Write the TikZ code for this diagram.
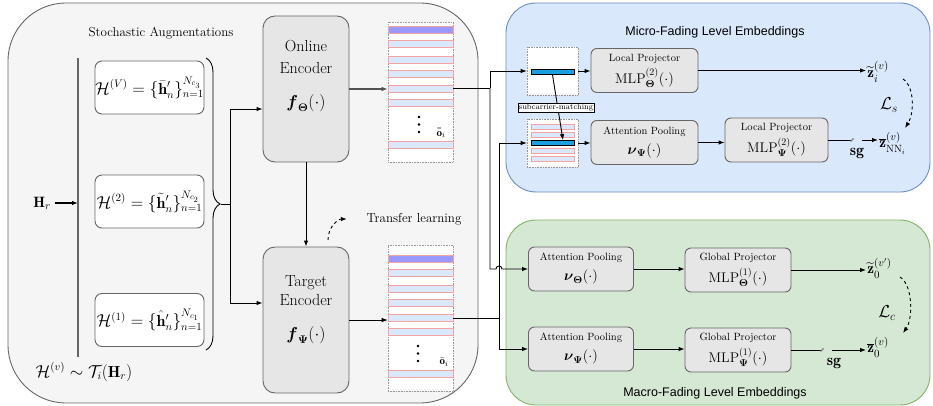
\documentclass[tikz,border=0pt]{standalone}
\usepackage{amsmath, amssymb, tikz}
\usepackage{fontspec}
\newfontfamily\panelfont{Liberation Sans}
\usetikzlibrary{arrows.meta, calc, decorations.pathreplacing}

\definecolor{panelgray}{HTML}{F5F5F5}
\definecolor{edgegray}{HTML}{666666}
\definecolor{boxgray}{HTML}{E6E6E6}
\definecolor{microblue}{HTML}{DAE8FC}
\definecolor{microedge}{HTML}{6C8EBF}
\definecolor{macrogreen}{HTML}{D5E8D4}
\definecolor{macroedge}{HTML}{82B366}
\definecolor{rowpink}{HTML}{F4A3A3}
\definecolor{rowpurple}{HTML}{9999FF}
\definecolor{rowblue}{HTML}{1BA1E2}

\newcommand{\boxcaption}[1]{{\fontsize{10.5}{12}\selectfont #1}}

\tikzset{
    panel/.style={line width=0.9pt, inner sep=0pt},
    paneltitle/.style={font=\panelfont\fontsize{12.5}{14}\selectfont},
    viewbox/.style={draw=edgegray, fill=white, rounded corners=7pt, minimum width=109pt, minimum height=53pt, inner sep=0pt, font=\fontsize{16}{18}\selectfont},
    encbox/.style={draw=edgegray, fill=boxgray, rounded corners=12pt, minimum width=86pt, minimum height=146pt},
    stackbox/.style={draw=gray!80, densely dotted, line width=0.6pt, fill=white, inner sep=0pt},
    row/.style={draw=rowpink, fill=microblue, line width=0.8pt, minimum width=65pt, minimum height=7pt, inner sep=0pt},
    toprow/.style={row, fill=rowpurple},
    smallrow/.style={row, minimum width=43pt, minimum height=5pt},
    matchrow/.style={draw=black, fill=rowblue, line width=0.8pt, minimum width=43pt, minimum height=5pt, inner sep=0pt},
    headbox/.style={draw=edgegray, fill=boxgray, rounded corners=6pt, minimum height=44pt, inner sep=0pt, align=center, font=\fontsize{14}{16}\selectfont},
    embed/.style={font=\fontsize{15}{17}\selectfont, inner sep=1pt},
    rowname/.style={font=\fontsize{11}{13}\selectfont, inner sep=0pt},
    lossname/.style={font=\fontsize{17}{19}\selectfont},
    stopgrad/.style={font=\fontsize{16}{18}\selectfont},
}

\begin{document}
\begin{tikzpicture}[x=1pt, y=-1pt, >={Latex[length=6pt,width=4.5pt]}, line width=0.9pt]
    \useasboundingbox (0,0) rectangle (933,406);

    \node[panel, fill=panelgray, draw=edgegray, rounded corners=58pt, minimum width=470pt, minimum height=400pt] (augpanel) at (243,203) {};
    \node[panel, fill=microblue, draw=microedge, rounded corners=30pt, minimum width=424pt, minimum height=189pt] (micro) at (718,97.5) {};
    \node[panel, fill=macrogreen, draw=macroedge, rounded corners=30pt, minimum width=424pt, minimum height=185pt] (macro) at (718,312.5) {};

    \node[font=\fontsize{13}{15}\selectfont] (augtitle) at (161,33) {Stochastic Augmentations};
    \node[paneltitle] (microtitle) at (715,32) {Micro-Fading Level Embeddings};
    \node[paneltitle] (macrotitle) at (715,393) {Macro-Fading Level Embeddings};

    \node[font=\fontsize{15}{17}\selectfont] (hr) at (42,203) {$\mathbf{H}_r$};
    \coordinate (bartop) at (78,58);
    \coordinate (barbot) at (78,357);
    \draw[line width=2.2pt, edgegray] (bartop) -- (barbot);
    \draw[->, line width=1.2pt] (hr) -- (hr -| bartop);
    \node[font=\fontsize{16}{18}\selectfont] (hvlabel) at (84,372) {$\mathcal{H}^{(v)}\sim\mathcal{T}_i(\mathbf{H}_r)$};

    \node[viewbox] (hV) at (149.5,87.5) {$\mathcal{H}^{(V)}=\{\bar{\mathbf{h}}'_n\}_{n=1}^{N_{c_3}}$};
    \node[viewbox] (h2) at (149.5,201.5) {$\mathcal{H}^{(2)}=\{\tilde{\mathbf{h}}'_n\}_{n=1}^{N_{c_2}}$};
    \node[viewbox] (h1) at (149.5,320) {$\mathcal{H}^{(1)}=\{\hat{\mathbf{h}}'_n\}_{n=1}^{N_{c_1}}$};
    \draw[decorate, decoration={brace, amplitude=14pt}] (206,58) -- (206,350);
    \coordinate (bracetip) at (221,204);
    \coordinate (augsplit) at (230,204);

    \node[encbox] (online) at (306,89) {};
    \node[align=center, font=\fontsize{16}{22.5}\selectfont] (onlinetext) at (306,76) {Online\\Encoder\\[11pt]$\boldsymbol{f}_{\boldsymbol{\Theta}}(\cdot)$};
    \node[encbox] (target) at (306,320) {};
    \node[align=center, font=\fontsize{16}{19}\selectfont] (targettext) at (306,310) {Target\\Encoder\\[15pt]$\boldsymbol{f}_{\boldsymbol{\Psi}}(\cdot)$};

    \draw (bracetip) -- (augsplit);
    \draw[->] (augsplit) |- ([yshift=-20pt]online.west);
    \draw[->] (augsplit) |- ([yshift=17pt]target.west);
    \draw[->] (online) -- (target);

    \node[font=\fontsize{13}{15}\selectfont] (transfer) at (414,219) {Transfer learning};
    \coordinate (tlfoot) at (328,240);
    \draw[->, dashed] (tlfoot) .. controls +(0,-14) and +(-8,0) .. ([xshift=-16pt]transfer.west);

    \node[stackbox, minimum width=65pt, minimum height=140pt] (onstack) at (420.5,92) {};
    \node[toprow] (on1) at (420.5,30) {};
    \node[row] (on2) at (420.5,44) {};
    \node[row] (on3) at (420.5,60) {};
    \node[row] (on4) at (420.5,74) {};
    \node[row] (on5) at (420.5,89) {};
    \node[row] (on6) at (420.5,103) {};
    \node[row] (on7) at (420.5,145) {};
    \filldraw (419,117) circle(0.8);
    \filldraw (419,124.5) circle(0.8);
    \filldraw (419,132) circle(0.8);
    \node[rowname] (onlabel) at (441,133) {$\bar{\bar{\mathbf{o}}}_i$};

    \node[stackbox, minimum width=65pt, minimum height=146pt] (tgstack) at (420.5,318) {};
    \node[toprow] (tg1) at (420.5,259) {};
    \node[row] (tg2) at (420.5,273) {};
    \node[row] (tg3) at (420.5,289) {};
    \node[row] (tg4) at (420.5,303) {};
    \node[row] (tg5) at (420.5,318) {};
    \node[row] (tg6) at (420.5,332) {};
    \node[row] (tg7) at (420.5,374) {};
    \filldraw (418,346) circle(0.8);
    \filldraw (418,353.5) circle(0.8);
    \filldraw (418,361) circle(0.8);
    \node[rowname] (tglabel) at (444,362) {$\bar{\mathbf{o}}_i$};

    \draw[->, line width=1.5pt, edgegray!80!black] (online.east) -- (online.east -| onstack.west);
    \draw[->] (target.east) -- (target.east -| tgstack.west);

    \node[stackbox, minimum width=51pt, minimum height=48pt] (micbox1) at (552.5,71) {};
    \node[matchrow] (mbar1) at (552.5,72) {};
    \node[stackbox, minimum width=51pt, minimum height=48pt] (micbox2) at (552.5,143) {};
    \node[smallrow] (mrow1) at (552.5,127) {};
    \node[smallrow] (mrow2) at (552.5,135) {};
    \node[matchrow] (mbar2) at (552.5,143) {};
    \node[smallrow] (mrow4) at (552.5,151) {};
    \node[smallrow] (mrow5) at (552.5,158.5) {};
    \draw[->] (mbar1.south) -- ([xshift=10.5pt]mbar2.north);
    \node[draw, fill=white, line width=0.8pt, inner sep=1pt, font=\fontsize{8}{9}\selectfont] (match) at (556,107.5) {subcarrier-matching};

    \node[headbox, minimum width=107pt] (lproj1) at (644.5,70.5) {\boxcaption{Local Projector}\\[4pt]$\mathrm{MLP}^{(2)}_{\boldsymbol{\Theta}}(\cdot)$};
    \node[headbox, minimum width=107pt] (apoolmic) at (644.5,142.5) {\boxcaption{Attention Pooling}\\[4pt]$\boldsymbol{\nu}_{\boldsymbol{\Psi}}(\cdot)$};
    \node[headbox, minimum width=103pt] (lproj2) at (776.5,140) {\boxcaption{Local Projector}\\[4pt]$\mathrm{MLP}^{(2)}_{\boldsymbol{\Psi}}(\cdot)$};

    \node[headbox, minimum width=105pt] (apoolTh) at (581,269) {\boxcaption{Attention Pooling}\\[4pt]$\boldsymbol{\nu}_{\boldsymbol{\Theta}}(\cdot)$};
    \node[headbox, minimum width=106pt] (gprojTh) at (738,270) {\boxcaption{Global Projector}\\[4pt]$\mathrm{MLP}^{(1)}_{\boldsymbol{\Theta}}(\cdot)$};
    \node[headbox, minimum width=105pt] (apoolPs) at (581,349) {\boxcaption{Attention Pooling}\\[4pt]$\boldsymbol{\nu}_{\boldsymbol{\Psi}}(\cdot)$};
    \node[headbox, minimum width=106pt] (gprojPs) at (738,350) {\boxcaption{Global Projector}\\[4pt]$\mathrm{MLP}^{(1)}_{\boldsymbol{\Psi}}(\cdot)$};

    \coordinate (onsplit) at (490,88);
    \coordinate (tgsplit) at (499,318);
    \coordinate (jump) at (499,269);
    \draw (onstack.east |- onsplit) -- (onsplit);
    \draw[->] (onsplit) |- (micbox1.west);
    \draw[->] (onsplit) |- ([xshift=-3pt]jump) arc[start angle=180, end angle=0, radius=3pt] -- (apoolTh.west);
    \draw (tgstack.east) -- (tgsplit);
    \draw[->] (tgsplit) |- (micbox2.west);
    \draw[->] (tgsplit) |- (apoolPs.west);

    \draw[->] (micbox1.east) -- (micbox1.east -| lproj1.west);
    \draw[->] (micbox2.east) -- (micbox2.east -| apoolmic.west);
    \draw[->] (apoolmic.east) -- (apoolmic.east -| lproj2.west);
    \draw[->] (apoolTh.east) -- (apoolTh.east -| gprojTh.west);
    \draw[->] (apoolPs.east) -- (apoolPs.east -| gprojPs.west);

    \node[embed, anchor=west] (ztili) at (866,72) {$\widetilde{\mathbf{z}}_i^{(v)}$};
    \node[embed, anchor=west] (zbarnn) at (878,143) {$\overline{\mathbf{z}}_{\mathrm{NN}_i}^{(v)}$};
    \node[embed, anchor=west] (ztil0) at (866,268) {$\widetilde{\mathbf{z}}_0^{(v')}$};
    \node[embed, anchor=west] (zbar0) at (866,347) {$\overline{\mathbf{z}}_0^{(v)}$};

    \draw[->] (lproj1.east) -- (lproj1.east -| ztili.west);
    \draw[->] (gprojTh.east) -- (gprojTh.east -| ztil0.west);

    \coordinate (cutmic) at (852,140);
    \node[stopgrad] (sgmic) at (857,153) {$\mathbf{sg}$};
    \draw (lproj2.east) -- (cutmic);
    \draw[gray, line width=1.2pt] ($(cutmic)+(-1.5,1.5)$) -- ($(cutmic)+(1.5,-1.5)$);
    \draw[->] ([xshift=10pt]cutmic) -- (cutmic -| zbarnn.west);

    \coordinate (cutmac) at (822,350);
    \node[stopgrad] (sgmac) at (834,363) {$\mathbf{sg}$};
    \draw (gprojPs.east) -- (cutmac);
    \draw[gray, line width=1.2pt] ($(cutmac)+(-1.5,1.5)$) -- ($(cutmac)+(1.5,-1.5)$);
    \draw[->] ([xshift=10pt]cutmac) -- (cutmac -| zbar0.west);

    \coordinate (lsfrom) at (903,79);
    \coordinate (lsto) at (905,128);
    \draw[->, dashed] (lsfrom) .. controls +(12,8) and +(9,-14) .. (lsto);
    \node[lossname] (ls) at (889,105) {$\mathcal{L}_s$};
    \coordinate (lcfrom) at (900,277);
    \coordinate (lcto) at (903,333);
    \draw[->, dashed] (lcfrom) .. controls +(13,8) and +(10,-14) .. (lcto);
    \node[lossname] (lc) at (887,313) {$\mathcal{L}_c$};
\end{tikzpicture}
\end{document}
